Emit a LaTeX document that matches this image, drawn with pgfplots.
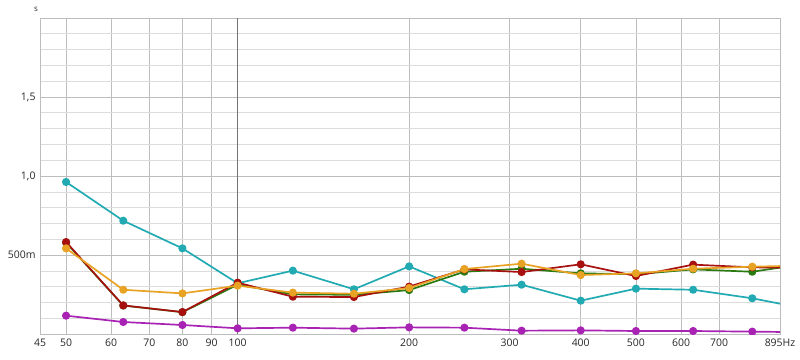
\documentclass[border=0pt]{standalone}
\usepackage{pgfplots}
\pgfplotsset{compat=1.18}
\usepackage{fontspec}
\setmainfont{Open Sans}
\definecolor{ccyan}{HTML}{22AAB2}
\definecolor{cred}{HTML}{A81010}
\definecolor{corange}{HTML}{E8A224}
\definecolor{cgreen}{HTML}{2A7A12}
\definecolor{cmag}{HTML}{A822B4}
\definecolor{gmin}{HTML}{DCDCDC}
\definecolor{gmaj}{HTML}{BDBDBD}
\begin{document}
\begin{tikzpicture}[x=1bp,y=1bp]
\path[use as bounding box] (0,0) rectangle (800,359);
\begin{axis}[
  at={(40bp,25bp)}, anchor=south west,
  width=740bp, height=316bp, scale only axis,
  xmode=log, xmin=45, xmax=895, ymin=0, ymax=2,
  log basis x=10,
  xtick={45,50,60,70,80,90,100,200,300,400,500,600,700,895},
  xticklabels={45,50,60,70,80,90,100,200,300,400,500,600,700,895Hz},
  extra x ticks={100},
  extra x tick labels={},
  extra x tick style={grid=major, major grid style={color=gray!90!black, line width=0.8pt}},
  ytick={0.5,1.0,1.5},
  yticklabels={500m,{1,0},{1,5}},
  minor ytick={0.1,0.2,0.3,0.4,0.6,0.7,0.8,0.9,1.1,1.2,1.3,1.4,1.6,1.7,1.8,1.9},
  grid=both,
  major grid style={color=gmaj, line width=0.7pt},
  minor grid style={color=gmin, line width=0.6pt},
  axis line style={color=gmaj, line width=0.8pt},
  tick style={draw=none},
  tick label style={font=\fontsize{10.5}{12}\selectfont, text=black!85},
  xticklabel style={yshift=-1bp},
  yticklabel style={xshift=-1bp},
  /pgf/number format/assume math mode=true,
  clip marker paths=true,
  every axis plot/.append style={line width=1.7pt, mark=*, mark size=3.2bp, line join=round},
]
\addplot[ccyan, mark options={fill=ccyan, draw=ccyan}] coordinates {
(50,0.962)(63,0.717)(80,0.542)(100,0.321)(125,0.401)(160,0.283)(200,0.428)(250,0.283)(315,0.312)(400,0.211)(500,0.287)(630,0.280)(800,0.226)(1000,0.158)};
\addplot[cmag, mark options={fill=cmag, draw=cmag}] coordinates {
(50,0.116)(63,0.076)(80,0.057)(100,0.036)(125,0.040)(160,0.034)(200,0.042)(250,0.040)(315,0.021)(400,0.023)(500,0.019)(630,0.019)(800,0.015)(1000,0.011)};
\addplot[cgreen, mark options={fill=cgreen, draw=cgreen}] coordinates {
(50,0.578)(63,0.180)(80,0.138)(100,0.312)(125,0.251)(160,0.248)(200,0.278)(250,0.394)(315,0.413)(400,0.384)(500,0.378)(630,0.409)(800,0.394)(1000,0.446)};
\addplot[cred, mark options={fill=cred, draw=cred}] coordinates {
(50,0.582)(63,0.181)(80,0.139)(100,0.325)(125,0.236)(160,0.234)(200,0.300)(250,0.409)(315,0.392)(400,0.441)(500,0.367)(630,0.439)(800,0.422)(1000,0.418)};
\addplot[corange, mark options={fill=corange, draw=corange}] coordinates {
(50,0.542)(63,0.280)(80,0.257)(100,0.306)(125,0.262)(160,0.255)(200,0.291)(250,0.411)(315,0.445)(400,0.373)(500,0.384)(630,0.413)(800,0.426)(1000,0.434)};
\end{axis}
\node[font=\fontsize{8}{9}\selectfont, text=black!85] at (36bp,350bp) {s};
\end{tikzpicture}
\end{document}
